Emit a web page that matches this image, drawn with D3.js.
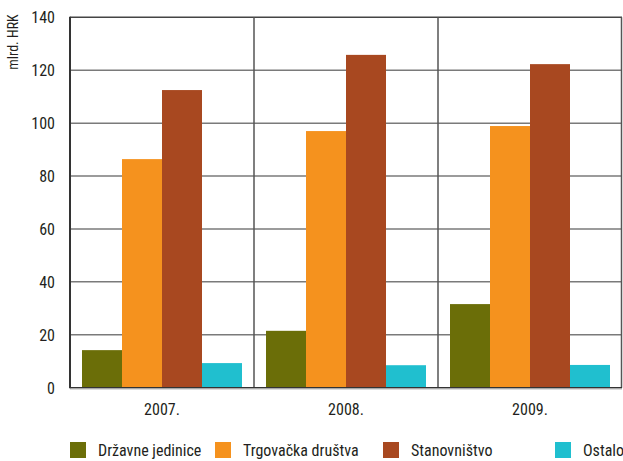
<!DOCTYPE html>
<html><head><meta charset="utf-8">
<script src="https://cdn.jsdelivr.net/npm/d3@7"></script>
<style>body{margin:0;background:#fff}svg{display:block}text{font-family:"Liberation Sans Narrow","Arial Narrow","Roboto Condensed","Liberation Sans",sans-serif;fill:#231f20}</style>
</head><body><svg id="c" width="623" height="461"></svg>
<script>
const categories = ["2007.", "2008.", "2009."];
const seriesNames = ["Državne jedinice", "Trgovačka društva", "Stanovništvo", "Ostalo"];
const seriesColors = ["#6b6e08", "#f5921e", "#a84820", "#20bfcf"];
const drzavne = [14.2, 21.5, 31.6];
const trgovacka = [86.4, 97.0, 98.9];
const stanovnistvo = [112.5, 125.8, 122.3];
const ostalo = [9.3, 8.5, 8.6];
const yTicks = [0, 20, 40, 60, 80, 100, 120, 140];
const yLabel = "mlrd. HRK";

const values = [drzavne, trgovacka, stanovnistvo, ostalo];
const svg = d3.select("#c");
const L = 70, R = 622, T = 17.3, B = 387.7;
const x = d3.scaleBand().domain(categories).range([L, R]).paddingInner(0).paddingOuter(0);
const xs = d3.scaleBand().domain(d3.range(seriesNames.length)).range([0, x.bandwidth()]).paddingInner(0).paddingOuter(0.3);
const y = d3.scaleLinear().domain([0, 140]).range([B, T]);

// gridlines
svg.append("g").selectAll("line").data(yTicks.filter(d => d > 0)).join("line")
  .attr("x1", L).attr("x2", R).attr("y1", d => y(d)).attr("y2", d => y(d))
  .attr("stroke", d => d === 140 ? "#444" : "#7a7a7a").attr("stroke-width", 1.5);
// vertical separators
svg.append("g").selectAll("line").data(categories.slice(1)).join("line")
  .attr("x1", d => x(d)).attr("x2", d => x(d)).attr("y1", T).attr("y2", B)
  .attr("stroke", "#555").attr("stroke-width", 1.5);
// right border
svg.append("line").attr("x1", R - 0.5).attr("x2", R - 0.5).attr("y1", T).attr("y2", B).attr("stroke", "#555").attr("stroke-width", 1.5);

// bars
const g = svg.append("g");
categories.forEach((c, ci) => {
  values.forEach((vals, si) => {
    g.append("rect")
      .attr("x", x(c) + xs(si)).attr("width", xs.bandwidth())
      .attr("y", y(vals[ci])).attr("height", y(0) - y(vals[ci]))
      .attr("fill", seriesColors[si]);
  });
});

// axes lines
svg.append("line").attr("x1", L).attr("x2", L).attr("y1", T - 0.5).attr("y2", B + 0.5).attr("stroke", "#333").attr("stroke-width", 2);
svg.append("line").attr("x1", L).attr("x2", R).attr("y1", B).attr("y2", B).attr("stroke", "#333").attr("stroke-width", 1.5);
svg.append("line").attr("x1", L).attr("x2", R).attr("y1", B + 1.5).attr("y2", B + 1.5).attr("stroke", "#ccc").attr("stroke-width", 1);

// y axis
const yAxis = d3.axisLeft(y).tickValues(yTicks).tickSize(0).tickPadding(15);
const ya = svg.append("g").attr("transform", `translate(${L},0)`).call(yAxis);
ya.select(".domain").remove();
ya.selectAll("text").attr("font-size", 16).attr("font-family", null).attr("dy", "0.35em");

// x axis
const xAxis = d3.axisBottom(x).tickSize(0).tickPadding(16);
const xa = svg.append("g").attr("transform", `translate(0,${B})`).call(xAxis);
xa.select(".domain").remove();
xa.selectAll("text").attr("font-size", 16).attr("font-family", null);

// y label
svg.append("text").attr("transform", "translate(18,42) rotate(-90)").attr("text-anchor", "middle")
  .attr("font-size", 14).text(yLabel);

// legend
const legX = [70, 215, 383, 555];
const lg = svg.append("g");
seriesNames.forEach((n, i) => {
  lg.append("rect").attr("x", legX[i]).attr("y", 442).attr("width", 16).attr("height", 16).attr("fill", seriesColors[i]);
  lg.append("text").attr("x", legX[i] + 28).attr("y", 450).attr("dy", "0.35em").attr("font-size", 16).text(n);
});
</script></body></html>
